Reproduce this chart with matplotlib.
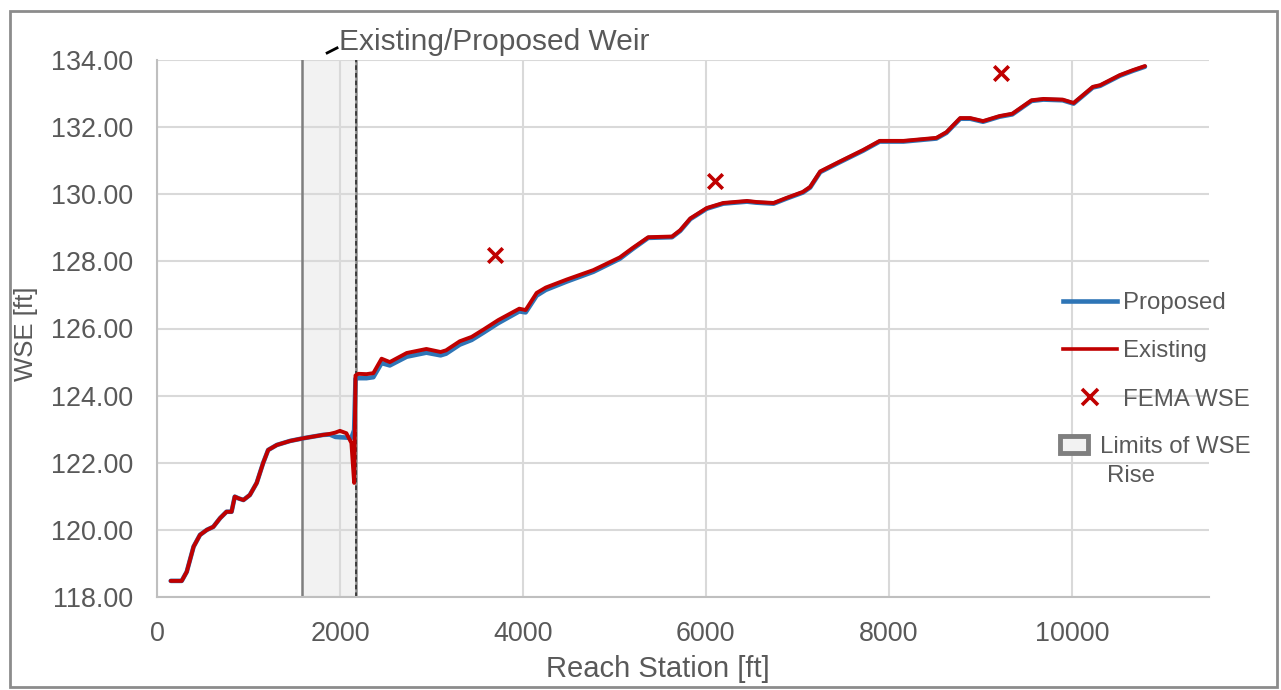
import matplotlib.pyplot as plt
import matplotlib.patches as mpatches
from matplotlib.lines import Line2D

plt.rcParams['font.family'] = ['Liberation Sans', 'DejaVu Sans']

# water surface profile along the reach
station = [150, 270, 325, 400, 470, 545, 615, 690, 760, 815, 850, 890, 945, 1015,
           1090, 1160, 1215, 1310, 1455, 1600, 1815, 1890, 1950, 2000, 2070, 2125,
           2155, 2170, 2200, 2290, 2365, 2455, 2545, 2730, 2945, 3100, 3160, 3310,
           3440, 3570, 3730, 3960, 4030, 4150, 4250, 4480, 4770, 5060, 5200, 5370,
           5630, 5720, 5830, 6010, 6190, 6450, 6550, 6740, 6880, 7060, 7140, 7250,
           7460, 7720, 7900, 8160, 8520, 8630, 8780, 8890, 9030, 9210, 9350, 9560,
           9690, 9900, 10020, 10230, 10310, 10525, 10670, 10800]

existing = [118.48, 118.48, 118.75, 119.50, 119.85, 120.00, 120.09, 120.35, 120.54,
            120.54, 120.99, 120.94, 120.89, 121.04, 121.40, 121.99, 122.38, 122.53,
            122.65, 122.73, 122.83, 122.86, 122.90, 122.95, 122.88, 122.59, 121.40,
            124.60, 124.65, 124.64, 124.67, 125.10, 125.00, 125.27, 125.39, 125.30,
            125.35, 125.62, 125.75, 125.97, 126.25, 126.59, 126.55, 127.06, 127.22,
            127.46, 127.74, 128.12, 128.40, 128.72, 128.74, 128.93, 129.28, 129.59,
            129.74, 129.80, 129.77, 129.74, 129.89, 130.07, 130.22, 130.68, 130.97,
            131.32, 131.59, 131.59, 131.68, 131.85, 132.27, 132.27, 132.18, 132.33,
            132.40, 132.80, 132.84, 132.82, 132.72, 133.20, 133.25, 133.55, 133.70,
            133.82]

proposed = [118.48, 118.48, 118.75, 119.50, 119.85, 120.00, 120.09, 120.35, 120.54,
            120.54, 120.99, 120.94, 120.89, 121.04, 121.40, 121.99, 122.38, 122.53,
            122.65, 122.73, 122.83, 122.84, 122.77, 122.76, 122.75, 122.74, 122.97,
            124.50, 124.52, 124.52, 124.55, 124.97, 124.90, 125.16, 125.28, 125.20,
            125.25, 125.52, 125.66, 125.88, 126.16, 126.51, 126.48, 126.98, 127.15,
            127.40, 127.69, 128.08, 128.37, 128.70, 128.72, 128.91, 129.26, 129.57,
            129.72, 129.78, 129.75, 129.72, 129.87, 130.05, 130.20, 130.66, 130.95,
            131.30, 131.57, 131.57, 131.66, 131.83, 132.25, 132.25, 132.16, 132.31,
            132.38, 132.78, 132.82, 132.80, 132.70, 133.18, 133.23, 133.53, 133.68,
            133.80]

fema_station = [3700, 6100, 9230]
fema_wse = [128.2, 130.4, 133.6]

weir_start = 1580
weir_end = 2180

TEXT = '#595959'
RED = '#c00000'
BLUE = '#2e75b6'

fig = plt.figure(figsize=(12.81, 6.90), dpi=100)
ax = fig.add_axes([157 / 1281, 1 - 597 / 690, 1052 / 1281, 537 / 690])

# shaded weir zone and its limit lines
ax.axvspan(weir_start, weir_end, color='#f2f2f2', zorder=0)
ax.axvline(weir_start, color='#7f7f7f', lw=1.8, zorder=2)
ax.axvline(weir_end, color='#8c8c8c', lw=1.8, zorder=2)
ax.axvline(weir_end, color='#262626', lw=1.1, ls=(0, (3, 2)), zorder=2.1)

ax.plot(station, proposed, color=BLUE, lw=3.3, solid_joinstyle='round',
        solid_capstyle='round', zorder=3)
ax.plot(station, existing, color=RED, lw=2.8, solid_joinstyle='round',
        solid_capstyle='round', zorder=4)
ax.scatter(fema_station, fema_wse, marker='x', s=110, color=RED, linewidths=2.6, zorder=5)

ax.set_xlim(0, 11500)
ax.set_ylim(118, 134)
ax.set_xticks(range(0, 11000, 2000))
ax.set_yticks(range(118, 135, 2))
ax.set_yticklabels(['%.2f' % v for v in range(118, 135, 2)])
ax.grid(True, color='#d9d9d9', lw=1.5)
ax.set_axisbelow(True)
for side in ['top', 'right']:
    ax.spines[side].set_visible(False)
for side in ['left', 'bottom']:
    ax.spines[side].set_color('#bfbfbf')
    ax.spines[side].set_linewidth(1.5)
ax.tick_params(length=0, labelsize=19.4, labelcolor=TEXT)
ax.tick_params(axis='y', pad=17)
ax.tick_params(axis='x', pad=17)

ax.set_xlabel('Reach Station [ft]', fontsize=21, color=TEXT)
ax.set_ylabel('WSE [ft]', fontsize=18.5, color=TEXT)
ax.xaxis.set_label_coords(0.476, -0.108)
ax.yaxis.set_label_coords(-0.113, 0.49)

# weir callout above the plot
ax.plot([1860, 1968], [134.21, 134.36], color='black', lw=2, clip_on=False)
ax.text(1985, 134.55, 'Existing/Proposed Weir', fontsize=21.5, color=TEXT,
        va='center', ha='left', clip_on=False)

# legend: line/marker entries, then the shaded-limits entry
handles = [Line2D([], [], color=BLUE, lw=3.3),
           Line2D([], [], color=RED, lw=2.6),
           Line2D([], [], color=RED, marker='x', ls='none', ms=11, mew=2.6)]
leg1 = fig.legend(handles, ['Proposed', 'Existing', 'FEMA WSE'], loc='upper left',
                  bbox_to_anchor=(1063 / 1281, 1 - 292 / 690), frameon=False,
                  fontsize=17.3, handlelength=2.25, handletextpad=0.25,
                  labelspacing=1.1, borderaxespad=0, borderpad=0)
leg2 = fig.legend([mpatches.Patch(facecolor='#f2f2f2', edgecolor='#7f7f7f', lw=3.5)],
                  ['Limits of WSE'], loc='upper left',
                  bbox_to_anchor=(1060 / 1281, 1 - 436 / 690), frameon=False,
                  fontsize=17.3, handlelength=1.15, handletextpad=0.5,
                  borderaxespad=0, borderpad=0)
for leg in (leg1, leg2):
    for t in leg.get_texts():
        t.set_color(TEXT)
fig.text(1107 / 1281, 1 - 476 / 690, 'Rise', fontsize=17.3, color=TEXT,
         ha='left', va='center')

# outer chart border
fig.patches.append(mpatches.Rectangle((10 / 1281, 3 / 690), 1267 / 1281, 676 / 690,
                                      transform=fig.transFigure, fill=False,
                                      edgecolor='#8c8c8c', lw=2))

fig.savefig('out.png', dpi=100)
